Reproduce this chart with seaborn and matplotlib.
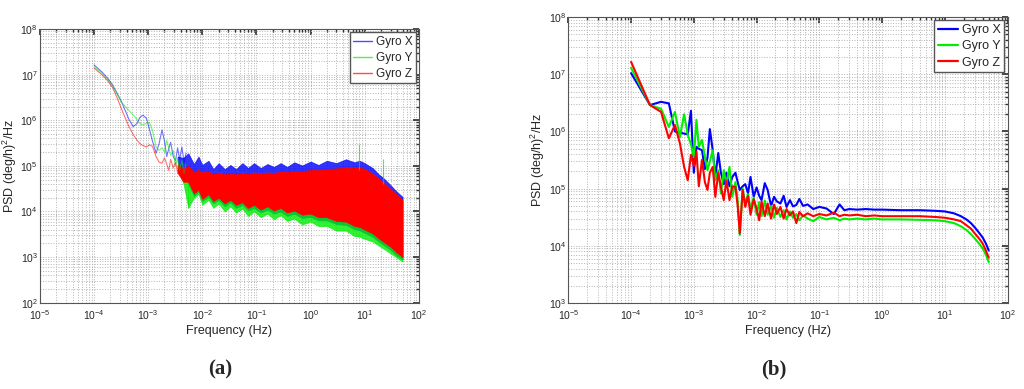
import numpy as np
import pandas as pd
import matplotlib
matplotlib.use("Agg")
import matplotlib.pyplot as plt
from matplotlib.lines import Line2D
import seaborn as sns

sns.set_theme(style="white")
plt.rcParams['font.family'] = ['Liberation Sans', 'DejaVu Sans']
plt.rcParams['mathtext.fontset'] = 'custom'
plt.rcParams['mathtext.rm'] = 'Liberation Sans'
plt.rcParams['mathtext.it'] = 'Liberation Sans:italic'

gyros = ['Gyro X', 'Gyro Y', 'Gyro Z']
colors = {'Gyro X': '#0000ff', 'Gyro Y': '#00ee00', 'Gyro Z': '#ff0000'}

# ---- panel (a): low-frequency part (single lines)
freq_a = [1e-4, 1.4e-4, 1.8e-4, 2.2e-4, 2.7e-4, 3.2e-4, 3.8e-4, 4.5e-4, 5.3e-4, 6.2e-4,
          7.0e-4, 8.0e-4, 9.3e-4, 1.05e-3, 1.2e-3, 1.4e-3, 1.6e-3, 1.8e-3, 2.0e-3, 2.2e-3,
          2.4e-3, 2.6e-3, 2.9e-3, 3.2e-3, 3.5e-3, 3.8e-3, 4.2e-3, 4.6e-3, 5.0e-3]
x_a = [1.65e7, 1.15e7, 8.3e6, 6.0e6, 3.8e6, 2.6e6, 1.6e6, 1.0e6, 7.3e5, 8.5e5,
       1.15e6, 1.3e6, 1.1e6, 6.5e5, 3.5e5, 1.9e5, 3.2e5, 6.2e5, 3.5e5, 1.6e5,
       2.4e5, 3.3e5, 1.6e5, 1.3e5, 2.5e5, 1.4e5, 2.6e5, 1.2e5, 1.9e5]
y_a = [1.5e7, 1.08e7, 7.8e6, 5.6e6, 3.6e6, 2.5e6, 2.0e6, 1.6e6, 1.3e6, 1.05e6,
       8.5e5, 7.9e5, 8.7e5, 9e5, 6e5, 2.6e5, 2.2e5, 2.5e5, 2.0e5, 3.7e5,
       2.5e5, 1.7e5, 2.2e5, 1.0e5, 1.5e5, 8e4, 1.3e5, 7e4, 1.1e5]
z_a = [1.4e7, 1.0e7, 7.3e6, 5.2e6, 3.0e6, 1.8e6, 1.1e6, 7e5, 4.8e5, 3.7e5,
       3.1e5, 2.8e5, 2.6e5, 2.9e5, 2.7e5, 1.6e5, 1.2e5, 1.15e5, 1.5e5, 1.1e5,
       8e4, 1.4e5, 9e4, 1.2e5, 7e4, 1.0e5, 6e4, 9e4, 6.5e4]

# ---- panel (a): dense high-frequency part, read as upper / lower envelopes
band_f = [3.5e-3, 4.5e-3, 5.5e-3, 7e-3, 8.5e-3, 1e-2, 1.3e-2, 1.6e-2, 2e-2, 2.6e-2,
          3.3e-2, 4.2e-2, 5.5e-2, 7e-2, 0.09, 0.12, 0.16, 0.21, 0.28, 0.37,
          0.5, 0.7, 1, 1.4, 2, 3, 4.5, 6.5, 8, 10,
          14, 18, 23, 30, 38, 50]
x_top = [1.6e5, 1.5e5, 1.9e5, 1.1e5, 1.6e5, 1.05e5, 1.3e5, 8.5e4, 1.15e5, 8.5e4,
         1.05e5, 8.5e4, 1.15e5, 9e4, 1.15e5, 9e4, 1.1e5, 9.5e4, 1.15e5, 9.5e4,
         1.2e5, 1.02e5, 1.25e5, 1.05e5, 1.3e5, 1.15e5, 1.4e5, 1.2e5, 1.3e5, 1.15e5,
         9e4, 6.6e4, 5.2e4, 3.8e4, 2.8e4, 2.1e4]
x_low = [1.2e5, 6e4, 4e4, 2.2e4, 2.7e4, 1.7e4, 2.1e4, 1.5e4, 1.8e4, 1.3e4,
         1.6e4, 1.2e4, 1.4e4, 1.05e4, 1.2e4, 9.5e3, 1.1e4, 9e3, 1.0e4, 8e3,
         9e3, 7.2e3, 7.6e3, 6.4e3, 6.4e3, 5.3e3, 5.1e3, 4.1e3, 3.9e3, 3.4e3,
         2.8e3, 2.2e3, 1.8e3, 1.45e3, 1.1e3, 9e2]
y_top = [1.0e5, 8e4, 9e4, 6.5e4, 8e4, 6.5e4, 7e4, 6e4, 6.8e4, 6e4,
         6.5e4, 6e4, 6.8e4, 6.2e4, 7e4, 6.4e4, 7e4, 6.6e4, 7.2e4, 6.8e4,
         7.5e4, 7.2e4, 7.8e4, 7.6e4, 8.2e4, 8.2e4, 8.6e4, 8.6e4, 8.6e4, 8.2e4,
         6.5e4, 5e4, 4e4, 3e4, 2.3e4, 1.7e4]
y_low = [8e4, 4e4, 1.2e4, 2e4, 2.4e4, 1.4e4, 1.8e4, 1.2e4, 1.5e4, 1.0e4,
         1.3e4, 9.5e3, 1.15e4, 8e3, 1.0e4, 7.5e3, 9e3, 6.8e3, 8.3e3, 6.2e3,
         7e3, 5.2e3, 6e3, 4.8e3, 4.8e3, 3.8e3, 3.8e3, 2.9e3, 2.8e3, 2.5e3,
         2.2e3, 1.8e3, 1.5e3, 1.2e3, 1.0e3, 8e2]
z_top = [1.1e5, 8.5e4, 1.0e5, 7.2e4, 8.2e4, 7.2e4, 7.6e4, 6.5e4, 7.2e4, 6.5e4,
         6.8e4, 6.5e4, 7e4, 6.6e4, 7.2e4, 6.9e4, 7.2e4, 7e4, 7.5e4, 7.3e4,
         7.7e4, 7.7e4, 8.1e4, 8.2e4, 8.6e4, 8.8e4, 9.2e4, 9.2e4, 9.2e4, 8.6e4,
         6.8e4, 5.3e4, 4.2e4, 3.1e4, 2.4e4, 1.8e4]
z_low = [7e4, 4.5e4, 4.5e4, 2.5e4, 3e4, 1.9e4, 2.4e4, 1.7e4, 2.0e4, 1.5e4,
         1.8e4, 1.4e4, 1.6e4, 1.2e4, 1.4e4, 1.1e4, 1.3e4, 1.05e4, 1.2e4, 9.5e3,
         1.05e4, 8.5e3, 9e3, 7.5e3, 7.5e3, 6.2e3, 6e3, 4.8e3, 4.6e3, 4e3,
         3.3e3, 2.6e3, 2.1e3, 1.7e3, 1.3e3, 1.0e3]
# single narrow green spikes standing out of the band
spike_f = [5.5e-3, 8.0, 22.0]
spike_lo = [4e4, 8e4, 4e4]
spike_hi = [1.2e4, 3e5, 1.4e5]

# ---- panel (b)
freq_b = [1e-4, 2e-4, 3e-4, 4e-4, 5e-4, 6e-4, 7e-4, 8e-4, 9e-4,
          1.0e-3, 1.1e-3, 1.2e-3, 1.35e-3, 1.5e-3, 1.65e-3, 1.8e-3, 2.0e-3, 2.2e-3, 2.45e-3,
          2.7e-3, 3.0e-3, 3.3e-3, 3.7e-3, 4.1e-3, 4.6e-3, 5.0e-3, 5.4e-3, 6.0e-3, 6.6e-3,
          7.3e-3, 8.0e-3, 9.0e-3,
          1.0e-2, 1.1e-2, 1.2e-2, 1.35e-2, 1.5e-2, 1.7e-2, 1.9e-2, 2.1e-2, 2.4e-2, 2.7e-2,
          3.0e-2, 3.4e-2, 3.8e-2, 4.3e-2, 4.8e-2, 5.5e-2, 6.5e-2, 8e-2,
          0.1, 0.13, 0.17, 0.21, 0.25, 0.3, 0.4, 0.55, 0.75,
          1, 2, 4, 7, 10, 14, 18, 22, 26, 30, 35, 40, 45, 50]
x_b = [1.05e7, 2.9e6, 3.3e6, 3.1e6, 1.0e6, 9.5e5, 9.2e5, 8.9e5, 2.3e6,
       1.9e5, 5.4e5, 5.0e5, 4.7e5, 2.2e5, 3.5e5, 1.1e6, 4.7e5, 1.6e5, 4.2e5,
       1.9e5, 1.2e5, 1.9e5, 1.1e5, 1.6e5, 1.9e5, 1.3e5, 9.5e4, 1.1e5, 1.2e5,
       8.3e4, 1.6e5, 7.2e4,
       1.05e5, 7.5e4, 6.3e4, 1.25e5, 9.5e4, 5.0e4, 7.2e4, 6.0e4, 5.5e4, 7.5e4,
       4.8e4, 6.3e4, 4.9e4, 5.2e4, 6.6e4, 5.0e4, 5.3e4, 4.4e4,
       4.8e4, 4.5e4, 3.6e4, 5.3e4, 4.2e4, 4.4e4, 4.3e4, 4.4e4, 4.3e4,
       4.3e4, 4.2e4, 4.2e4, 4.1e4, 4.0e4, 3.7e4, 3.3e4, 2.9e4, 2.5e4, 2.1e4, 1.7e4, 1.4e4, 1.1e4, 8.3e3]
y_b = [1.3e7, 2.9e6, 2.5e6, 1.2e6, 2.2e6, 8.0e5, 2.0e6, 8.7e5, 6.0e5,
       3.5e5, 1.6e6, 5.4e5, 7.1e5, 3.6e5, 2.1e5, 3.0e5, 4.7e5, 1.4e5, 2.1e5,
       8.3e4, 2.1e5, 1.2e5, 2.4e5, 7.2e4, 1.3e5, 6.0e4, 1.55e4, 1.0e5, 5.5e4,
       8.0e4, 4.5e4, 7.0e4,
       3.5e4, 5.8e4, 3.3e4, 6.2e4, 3.5e4, 5.0e4, 3.1e4, 4.6e4, 3.2e4, 4.2e4,
       2.9e4, 4.0e4, 3.1e4, 3.6e4, 2.8e4, 3.4e4, 3.0e4, 2.7e4,
       3.2e4, 2.9e4, 3.1e4, 2.8e4, 3.0e4, 2.9e4, 3.0e4, 2.9e4, 3.0e4,
       2.9e4, 2.9e4, 2.85e4, 2.8e4, 2.7e4, 2.5e4, 2.2e4, 1.9e4, 1.6e4, 1.35e4, 1.1e4, 9.0e3, 7.0e3, 5.2e3]
z_b = [1.65e7, 2.9e6, 2.2e6, 7.6e5, 1.3e6, 6.2e5, 2.4e5, 1.4e5, 3.9e5,
       2.5e5, 4.5e5, 1.1e5, 3.2e5, 1.3e5, 9.5e4, 1.9e5, 2.4e5, 7.2e4, 1.9e5,
       1.07e5, 6.3e4, 1.4e5, 6.3e4, 1.1e5, 1.07e5, 5.0e4, 1.65e4, 9.5e4, 4.8e4,
       7.5e4, 3.5e4, 6.5e4,
       4.5e4, 2.8e4, 6.0e4, 3.3e4, 5.5e4, 3.0e4, 5.3e4, 3.6e4, 4.8e4, 3.0e4,
       4.4e4, 3.4e4, 4.0e4, 2.5e4, 3.9e4, 3.3e4, 3.7e4, 3.3e4,
       3.6e4, 3.4e4, 3.8e4, 3.3e4, 3.5e4, 3.4e4, 3.5e4, 3.3e4, 3.4e4,
       3.3e4, 3.3e4, 3.3e4, 3.2e4, 3.1e4, 2.9e4, 2.7e4, 2.3e4, 2.0e4, 1.65e4, 1.35e4, 1.1e4, 8.3e3, 6.2e3]

df_a = pd.DataFrame({'freq': freq_a * 3, 'psd': x_a + y_a + z_a,
                     'gyro': np.repeat(gyros, len(freq_a))})
df_b = pd.DataFrame({'freq': freq_b * 3, 'psd': x_b + y_b + z_b,
                     'gyro': np.repeat(gyros, len(freq_b))})
bands = {'Gyro X': (x_top, x_low), 'Gyro Y': (y_top, y_low), 'Gyro Z': (z_top, z_low)}


def style_axes(ax, ylim):
    ax.set_xscale('log')
    ax.set_yscale('log')
    ax.set_xlim(1e-5, 1e2)
    ax.set_ylim(*ylim)
    ax.grid(True, which='both', linestyle=':', color='#b4b4b4', linewidth=0.7)
    ax.tick_params(which='both', direction='in', top=True, right=True, labelsize=7.5,
                   color='#333333')
    ax.tick_params(axis='x', pad=4)
    ax.tick_params(axis='y', pad=1.5)
    ax.tick_params(which='major', length=4)
    ax.tick_params(which='minor', length=2)
    loc = matplotlib.ticker
    ax.xaxis.set_major_locator(loc.LogLocator(base=10, numticks=20))
    ax.yaxis.set_major_locator(loc.LogLocator(base=10, numticks=20))
    ax.xaxis.set_minor_locator(loc.LogLocator(base=10, subs=np.arange(2, 10), numticks=20))
    ax.yaxis.set_minor_locator(loc.LogLocator(base=10, subs=np.arange(2, 10), numticks=20))
    ax.yaxis.set_minor_formatter(loc.NullFormatter())
    ax.xaxis.set_minor_formatter(loc.NullFormatter())
    for s in ax.spines.values():
        s.set_color('#555555')
        s.set_linewidth(0.8)
    ax.set_xlabel('Frequency (Hz)', fontsize=9, labelpad=2)
    ax.set_ylabel('PSD (deg/h)$^2$/Hz', fontsize=9, labelpad=1)


def gyro_legend(ax, lw, alpha, size):
    handles = [Line2D([], [], color=colors[g], lw=lw, alpha=alpha) for g in gyros]
    ax.legend(handles, gyros, loc='upper right', fontsize=size, frameon=True,
              fancybox=False, edgecolor='#555555', framealpha=1, handlelength=1.6,
              borderaxespad=0.25, labelspacing=0.35, handletextpad=0.3, borderpad=0.3)


fig = plt.figure(figsize=(10.24, 3.89), dpi=100)
ax1 = fig.add_axes([0.039, 0.222, 0.370, 0.703])
ax2 = fig.add_axes([0.555, 0.221, 0.429, 0.735])

# (a)
sns.lineplot(data=df_a, x='freq', y='psd', hue='gyro', palette=colors, estimator=None,
             sort=False, linewidth=0.8, alpha=0.55, ax=ax1, legend=False)
for g in gyros:
    top, low = bands[g]
    ax1.fill_between(band_f, low, top, color=colors[g], linewidth=0.5,
                     alpha=1.0 if g == 'Gyro Z' else 0.8, edgecolor=colors[g])
ax1.vlines(spike_f, spike_lo, spike_hi, color=colors['Gyro Y'], lw=0.8, alpha=0.7)
style_axes(ax1, (1e2, 1e8))
gyro_legend(ax1, 1.0, 0.7, 8.5)

# (b)
sns.lineplot(data=df_b, x='freq', y='psd', hue='gyro', palette=colors, estimator=None,
             sort=False, linewidth=1.5, ax=ax2, legend=False)
style_axes(ax2, (1e3, 1e8))
gyro_legend(ax2, 1.6, 1.0, 9)

fig.text(0.215, 0.05, '(a)', ha='center', va='center', fontsize=15,
         fontweight='bold', family='Liberation Serif')
fig.text(0.756, 0.05, '(b)', ha='center', va='center', fontsize=15,
         fontweight='bold', family='Liberation Serif')

fig.savefig('out.png', dpi=100, facecolor='white')
